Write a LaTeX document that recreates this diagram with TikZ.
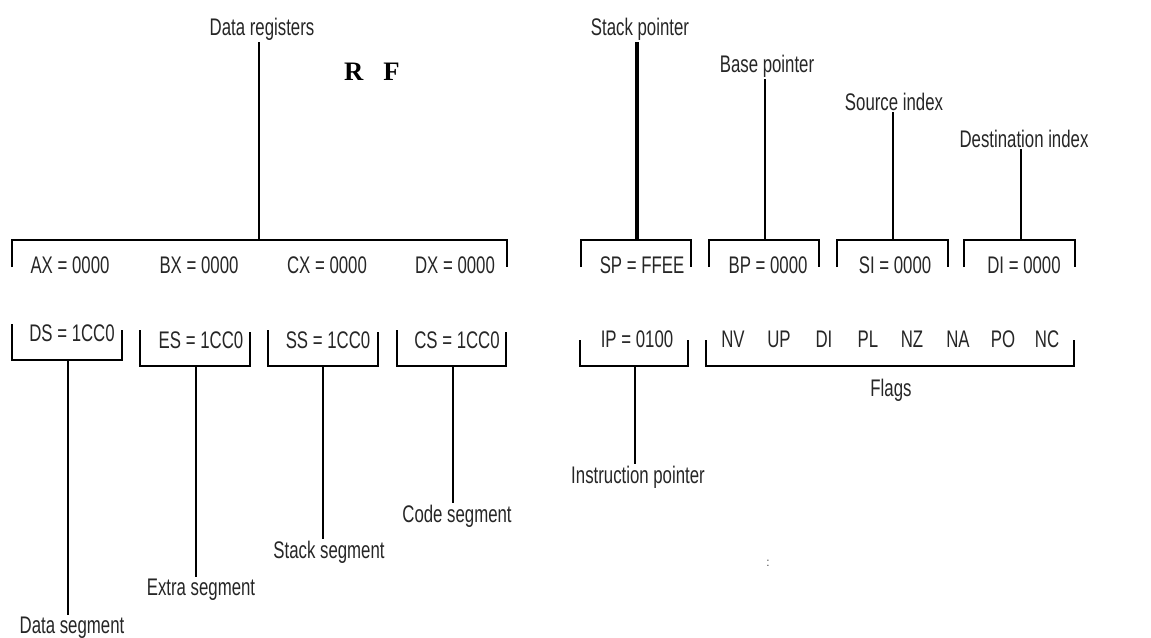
\documentclass[tikz,border=0pt]{standalone}
\usepackage{fontspec}
\setmainfont{Liberation Sans}[FakeStretch=0.7]
\newfontfamily\rffont{Liberation Serif}
\begin{document}
\begin{tikzpicture}[
  x=0.75pt, y=-0.75pt,
  font=\fontsize{18}{21}\selectfont,
  reg/.style  ={anchor=base,inner sep=1pt,text=black!85},
  lbl/.style  ={anchor=base,inner sep=1pt,text=black!85},
  brace/.style={line width=2pt},
  stem/.style ={line width=2pt},
]
\useasboundingbox (0,0) rectangle (1151,637);

%% ======================================================
%% Top row: data registers, pointers, indexes
%% ======================================================

% --- Data registers ---
\draw[brace] (12,267) -- (12,240) -- (507,240) -- (507,267);
\node[reg] (ax) at (70,273)  {AX = 0000};
\node[reg] (bx) at (199,273) {BX = 0000};
\node[reg] (cx) at (327,273) {CX = 0000};
\node[reg] (dx) at (455,273) {DX = 0000};
\coordinate (drtop) at (259,240);
\node[lbl] (drlbl) at (262,35) {Data registers};
\draw[stem] (drtop) -- (drtop |- drlbl.south);

\node[anchor=base,inner sep=0pt,font=\fontsize{20}{22}\selectfont\rffont\bfseries]
     (rf) at (372,80) {R\hspace{0.75em}F};

% --- Stack pointer ---
\draw[brace] (581,267) -- (581,240) -- (691,240) -- (691,267);
\node[reg] (sp) at (642,273) {SP = FFEE};
\coordinate (sptop) at (637,240);
\node[lbl] (splbl) at (640,35) {Stack pointer};
\draw[stem,line width=3pt] (sptop) -- (sptop |- splbl.south);

% --- Base pointer ---
\draw[brace] (709,267) -- (709,240) -- (819,240) -- (819,267);
\node[reg] (bp) at (768,273) {BP = 0000};
\coordinate (bptop) at (765,240);
\node[lbl] (bplbl) at (767,72) {Base pointer};
\draw[stem] (bptop) -- (bptop |- bplbl.south);

% --- Source index ---
\draw[brace] (837,267) -- (837,240) -- (948,240) -- (948,267);
\node[reg] (si) at (895,273) {SI = 0000};
\coordinate (sitop) at (893,240);
\node[lbl] (silbl) at (894,110) {Source index};
\draw[stem] (sitop) -- (sitop |- silbl.south);

% --- Destination index ---
\draw[brace] (964,267) -- (964,240) -- (1075,240) -- (1075,267);
\node[reg] (di) at (1024,273) {DI = 0000};
\coordinate (ditop) at (1021,240);
\node[lbl] (dilbl) at (1024,147) {Destination index};
\draw[stem] (ditop) -- (ditop |- dilbl.south);

%% ======================================================
%% Bottom row: segments, IP, flags
%% ======================================================

% --- Data segment ---
\draw[brace] (12,324) -- (12,360) -- (122,360) -- (122,330);
\node[reg] (ds) at (72,341) {DS = 1CC0};
\coordinate (dsbot) at (68,360);
\node[lbl] (dslbl) at (72,633) {Data segment};
\draw[stem] (dsbot) -- (dsbot |- dslbl.north);

% --- Extra segment ---
\draw[brace] (140,330) -- (140,366) -- (250,366) -- (250,332);
\node[reg] (es) at (201,348) {ES = 1CC0};
\coordinate (esbot) at (196,366);
\node[lbl] (eslbl) at (201,595) {Extra segment};
\draw[stem] (esbot) -- (esbot |- eslbl.north);

% --- Stack segment ---
\draw[brace] (268,330) -- (268,366) -- (378,366) -- (378,332);
\node[reg] (ss) at (328,348) {SS = 1CC0};
\coordinate (ssbot) at (323,366);
\node[lbl] (sslbl) at (329,558) {Stack segment};
\draw[stem] (ssbot) -- (ssbot |- sslbl.north);

% --- Code segment ---
\draw[brace] (397,330) -- (397,366) -- (506,366) -- (506,332);
\node[reg] (cs) at (457,348) {CS = 1CC0};
\coordinate (csbot) at (453,366);
\node[lbl] (cslbl) at (457,522) {Code segment};
\draw[stem] (csbot) -- (csbot |- cslbl.north);

% --- Instruction pointer ---
\draw[brace] (580,340) -- (580,366) -- (688,366) -- (688,340);
\node[reg] (ip) at (637,347) {IP = 0100};
\coordinate (ipbot) at (635,366);
\node[lbl] (iplbl) at (638,483) {Instruction pointer};
\draw[stem] (ipbot) -- (ipbot |- iplbl.north);

% --- Flags ---
\draw[brace] (706,340) -- (706,366) -- (1074,366) -- (1074,340);
\node[reg] (nv) at (733,347)  {NV};
\node[reg] (up) at (779,347)  {UP};
\node[reg] (dif) at (824,347) {DI};
\node[reg] (pl) at (868,347)  {PL};
\node[reg] (nz) at (912,347)  {NZ};
\node[reg] (na) at (958,347)  {NA};
\node[reg] (po) at (1003,347) {PO};
\node[reg] (nc) at (1047,347) {NC};
\node[lbl] (flagslbl) at (891,396) {Flags};

\node[anchor=base,inner sep=0pt,font=\fontsize{9}{9}\selectfont] (dots) at (768,566) {:};

\end{tikzpicture}
\end{document}
